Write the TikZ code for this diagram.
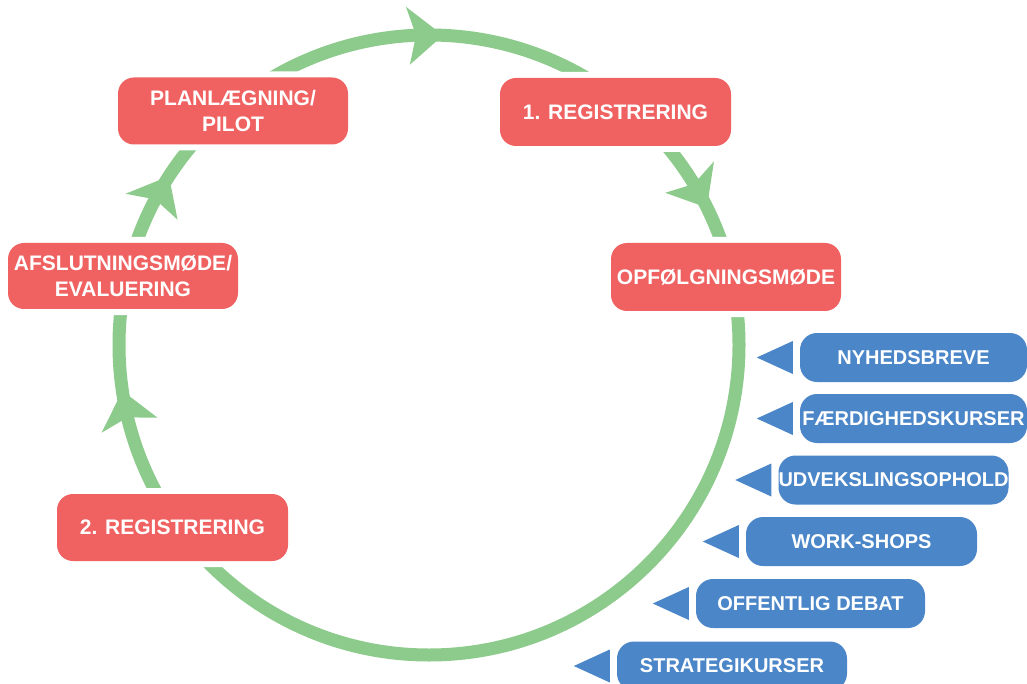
\documentclass[tikz,border=0pt]{standalone}
\usepackage{fontspec}
\setmainfont{Liberation Sans}
\usetikzlibrary{calc}
\definecolor{gc}{HTML}{8DCB8D}
\definecolor{rc}{HTML}{F06262}
\definecolor{bc}{HTML}{4A86C8}
\newcommand\cyclearrow[1]{\fill[gc] ([shift={(C)}]#1:310pt) -- ([shift={(C)}]{#1+6.5}:339pt) -- ([shift={(C)}]{#1+5}:310pt) -- ([shift={(C)}]{#1+6.5}:281pt) -- cycle;}
\newcommand\pointer[1]{\fill[bc] ([xshift=-7pt]#1.west) ++(0,-16.5) -- ++(-36,16.5) -- ++(36,16.5) -- cycle;}
\begin{document}
\begin{tikzpicture}[x=1pt,y=-1pt,
  redbox/.style={fill=rc, rounded corners=16pt, text=white,
    font=\bfseries\fontsize{21}{26}\selectfont, align=center, inner sep=0pt,
    preaction={draw=white, line width=12pt, rounded corners=16pt}},
  bluebox/.style={fill=bc, rounded corners=17pt, text=white,
    font=\bfseries\fontsize{20}{24}\selectfont, align=center, inner sep=0pt,
    minimum height=49pt}]
\useasboundingbox[fill=white] (0,0) rectangle (1027,684);
\coordinate (C) at (429,345);
\draw[gc, line width=13pt] (C) circle[radius=310pt];
\cyclearrow{87.4}
\cyclearrow{26.3}
\cyclearrow{147}
\cyclearrow{188.5}
\node[redbox, minimum width=230pt, minimum height=67pt] (plan) at (233,111) {PLANLÆGNING/\\PILOT};
\node[redbox, minimum width=231pt, minimum height=68pt] (reg1) at (615.5,112) {1. REGISTRERING};
\node[redbox, minimum width=230pt, minimum height=66pt] (afsl) at (123,276) {AFSLUTNINGSMØDE/\\EVALUERING};
\node[redbox, minimum width=230pt, minimum height=68pt] (opf) at (726,277) {OPFØLGNINGSMØDE};
\node[redbox, minimum width=231pt, minimum height=67pt] (reg2) at (172.5,527.5) {2. REGISTRERING};
\node[bluebox, minimum width=227pt] (nyh) at (913.5,357.5) {NYHEDSBREVE};
\node[bluebox, minimum width=227pt] (faer) at (913.5,418.5) {FÆRDIGHEDSKURSER};
\node[bluebox, minimum width=229pt] (udv) at (893.5,480) {UDVEKSLINGSOPHOLD};
\node[bluebox, minimum width=231pt] (work) at (861.5,541.5) {WORK-SHOPS};
\node[bluebox, minimum width=229pt] (off) at (810.5,603.5) {OFFENTLIG DEBAT};
\node[bluebox, minimum width=230pt] (strat) at (732,666) {STRATEGIKURSER};
\pointer{nyh}
\pointer{faer}
\pointer{udv}
\pointer{work}
\pointer{off}
\pointer{strat}
\end{tikzpicture}
\end{document}
